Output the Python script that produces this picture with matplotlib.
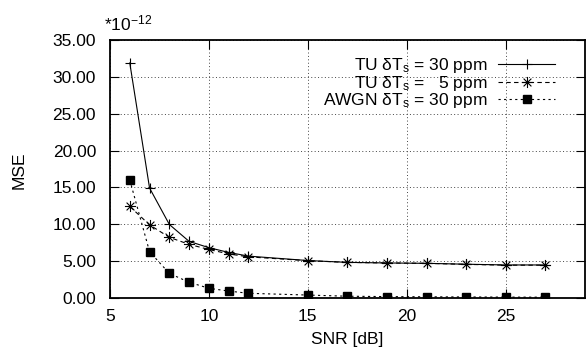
"""
MSE vs SNR, gnuplot-look
"""

import numpy as np
import matplotlib
matplotlib.use("Agg")
import matplotlib.pyplot as plt
from matplotlib.path import Path

plt.rcParams['font.family'] = ['Liberation Sans', 'DejaVu Sans']
plt.rcParams['mathtext.fontset'] = 'custom'
plt.rcParams['mathtext.rm'] = 'Liberation Sans'
plt.rcParams['mathtext.it'] = 'Liberation Sans:italic'

FS = 12.5

snr = [6, 7, 8, 9, 10, 11, 12, 15, 17, 19, 21, 23, 25, 27]
tu_30 = [31.9, 14.9, 9.95, 7.65, 6.8, 6.15, 5.65, 5.05, 4.8, 4.72, 4.67, 4.55, 4.45, 4.45]
tu_5 = [12.4, 9.9, 8.2, 7.25, 6.55, 5.95, 5.55, 5.03, 4.8, 4.72, 4.67, 4.53, 4.42, 4.42]
awgn_30 = [16.0, 6.25, 3.3, 2.1, 1.28, 0.9, 0.6, 0.36, 0.2, 0.15, 0.12, 0.1, 0.08, 0.07]

labels = ["TU \u03b4T$_\\mathrm{s}$ = 30 ppm",
          "TU \u03b4T$_\\mathrm{s}$ =   5 ppm",
          "AWGN \u03b4T$_\\mathrm{s}$ = 30 ppm"]

# gnuplot's "*" point: + and x on top of each other
star = Path([(-1, 0), (1, 0), (0, -1), (0, 1),
             (-0.7, -0.7), (0.7, 0.7), (-0.7, 0.7), (0.7, -0.7)],
            [Path.MOVETO, Path.LINETO] * 4)

fig = plt.figure(figsize=(5.86, 3.55), dpi=100)
ax = fig.add_axes([0.1877, 0.1614, 0.8103, 0.7256])

ax.plot(snr, tu_30, color='black', lw=0.8, ls='-', marker='+', ms=7, mew=0.8, label=labels[0])
ax.plot(snr, tu_5, color='black', lw=0.8, ls=(0, (4, 3)), marker=star, ms=8, mew=0.8,
        label=labels[1])
ax.plot(snr, awgn_30, color='black', lw=0.8, ls=(0, (2, 3)), marker='s', ms=5.5, label=labels[2])

ax.set_xlim(5, 29)
ax.set_ylim(0, 35)
ax.set_xticks([5, 10, 15, 20, 25])
ax.set_yticks(np.arange(0, 36, 5))
ax.set_yticklabels(["%.2f" % v for v in np.arange(0, 36, 5)])
ax.tick_params(direction='in', top=True, right=True, length=6.5, width=0.8, labelsize=FS)
ax.tick_params(axis='y', pad=10)
ax.tick_params(axis='x', pad=8)
for s in ax.spines.values():
    s.set_linewidth(1.3)

ax.grid(True, color='#444444', lw=0.7, ls=(0, (1, 2.5)))

ax.set_xlabel("SNR [dB]", fontsize=FS)
ax.set_ylabel("MSE", fontsize=FS)
ax.xaxis.set_label_coords(0.499, -0.135)
ax.yaxis.set_label_coords(-0.175, 0.496)
fig.text(0.178, 0.915, "*10$^{-12}$", fontsize=FS, ha='left', va='baseline')

leg = ax.legend(loc='upper right', bbox_to_anchor=(0.938, 0.937), frameon=False,
                markerfirst=False, handlelength=3.3, fontsize=FS, labelspacing=-0.1,
                borderaxespad=0, borderpad=0, handletextpad=0.6)

fig.savefig("out.png", dpi=100)
